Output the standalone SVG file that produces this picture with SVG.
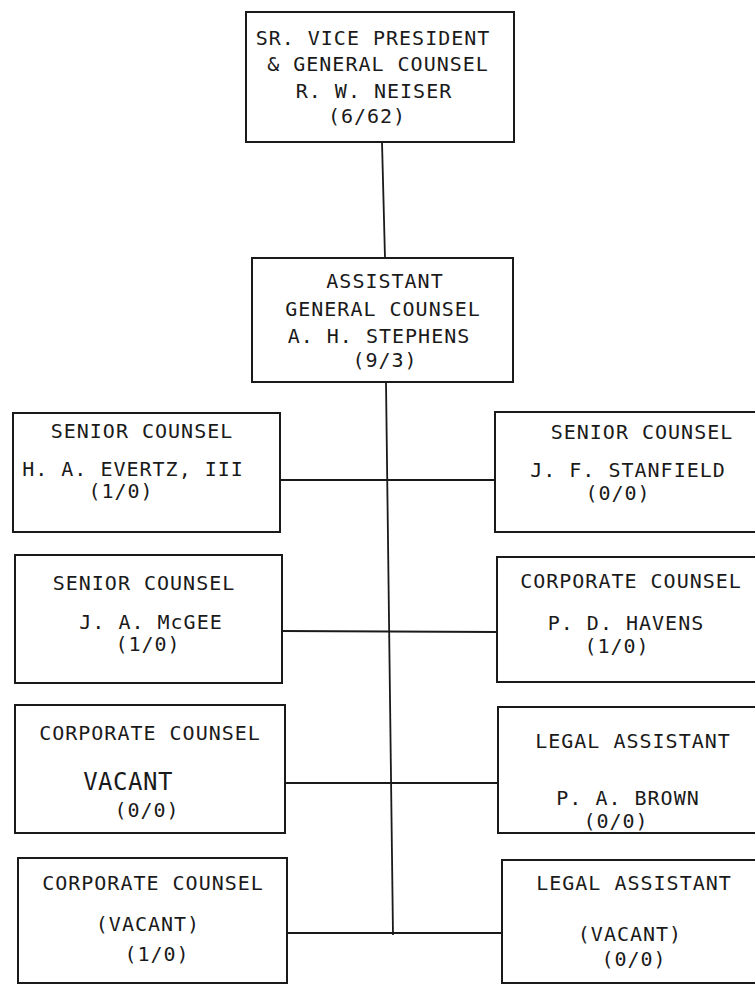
<svg xmlns="http://www.w3.org/2000/svg" width="755" height="985" viewBox="0 0 755 985">
<style>
.box{fill:none;stroke:#1a1a1a;stroke-width:2}
.con{fill:none;stroke:#1a1a1a;stroke-width:1.8}
text{font-family:"DejaVu Sans Mono","Liberation Mono",monospace;font-size:20px;letter-spacing:1px;fill:#1a1a1a;text-anchor:middle}
.big{font-size:24px;letter-spacing:0.5px}
</style>
<rect width="755" height="985" fill="#ffffff"/>
<g id="connectors">
<path class="con" d="M382,142 L385,258"/>
<path class="con" d="M386,382 L393,935"/>
<path class="con" d="M280,480 L495,480"/>
<path class="con" d="M282,631 L497,632"/>
<path class="con" d="M285,783 L498,783"/>
<path class="con" d="M287,933 L502,933"/>
</g>
<g id="svp">
<rect class="box" x="246" y="12" width="268" height="130"/>
<text x="373" y="45">SR. VICE PRESIDENT</text>
<text x="378" y="71">&amp; GENERAL COUNSEL</text>
<text x="374" y="98">R. W. NEISER</text>
<text x="367" y="123">(6/62)</text>
</g>
<g id="agc">
<rect class="box" x="252" y="258" width="261" height="124"/>
<text x="385" y="288">ASSISTANT</text>
<text x="383" y="316">GENERAL COUNSEL</text>
<text x="379" y="343">A. H. STEPHENS</text>
<text x="385" y="367">(9/3)</text>
</g>
<g id="evertz">
<rect class="box" x="13" y="413" width="267" height="119"/>
<text x="142" y="438">SENIOR COUNSEL</text>
<text x="133" y="476">H. A. EVERTZ, III</text>
<text x="121" y="498">(1/0)</text>
</g>
<g id="stanfield">
<rect class="box" x="495" y="412" width="275" height="120"/>
<text x="642" y="439">SENIOR COUNSEL</text>
<text x="628" y="477">J. F. STANFIELD</text>
<text x="618" y="500">(0/0)</text>
</g>
<g id="mcgee">
<rect class="box" x="15" y="555" width="267" height="128"/>
<text x="144" y="590">SENIOR COUNSEL</text>
<text x="151" y="629">J. A. McGEE</text>
<text x="148" y="651">(1/0)</text>
</g>
<g id="havens">
<rect class="box" x="497" y="557" width="273" height="125"/>
<text x="631" y="588">CORPORATE COUNSEL</text>
<text x="626" y="630">P. D. HAVENS</text>
<text x="617" y="653">(1/0)</text>
</g>
<g id="vacant1">
<rect class="box" x="15" y="705" width="270" height="128"/>
<text x="150" y="740">CORPORATE COUNSEL</text>
<text class="big" x="128" y="790">VACANT</text>
<text x="147" y="817">(0/0)</text>
</g>
<g id="brown">
<rect class="box" x="498" y="707" width="272" height="126"/>
<text x="633" y="748">LEGAL ASSISTANT</text>
<text x="628" y="805">P. A. BROWN</text>
<text x="616" y="828">(0/0)</text>
</g>
<g id="vacant2">
<rect class="box" x="18" y="858" width="269" height="125"/>
<text x="153" y="890">CORPORATE COUNSEL</text>
<text x="148" y="931">(VACANT)</text>
<text x="157" y="961">(1/0)</text>
</g>
<g id="vacant3">
<rect class="box" x="502" y="860" width="268" height="123"/>
<text x="634" y="890">LEGAL ASSISTANT</text>
<text x="630" y="941">(VACANT)</text>
<text x="634" y="966">(0/0)</text>
</g>
</svg>
